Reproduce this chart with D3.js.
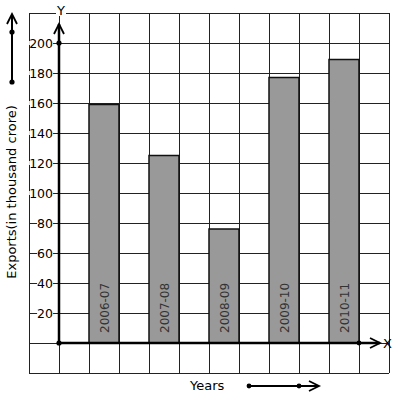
<!DOCTYPE html>
<html><head><meta charset="utf-8">
<script src="https://cdn.jsdelivr.net/npm/d3@7"></script>
<style>body{margin:0;background:#fff}svg{display:block}</style>
</head><body>
<script>
const categories = ["2006-07","2007-08","2008-09","2009-10","2010-11"];
const values = [159,125,76,177,189];
const yTicks = [20,40,60,80,100,120,140,160,180,200];

const W=397,H=399;
const svg=d3.select("body").append("svg").attr("width",W).attr("height",H);
const font="DejaVu Sans, sans-serif";
// y scale: 0 at 343, 200 at 43
const y=d3.scaleLinear().domain([0,200]).range([343,43]);
// x band: column index -> position; 30px columns
const xCol=d3.scaleLinear().domain([0,12]).range([29,389]);
const barCol=[2,4,6,8,10];

const g=svg.append("g");
// grid
for(let i=0;i<=12;i++){
  g.append("line").attr("x1",xCol(i)).attr("x2",xCol(i)).attr("y1",13).attr("y2",373)
   .attr("stroke","#222").attr("stroke-width",1).attr("shape-rendering","crispEdges");
  const yy=13+i*30;
  g.append("line").attr("x1",29).attr("x2",389).attr("y1",yy).attr("y2",yy)
   .attr("stroke","#222").attr("stroke-width",1).attr("shape-rendering","crispEdges");
}
// bars
categories.forEach((c,i)=>{
  const x0=xCol(barCol[i]), x1=xCol(barCol[i]+1);
  g.append("rect").attr("x",x0).attr("y",y(values[i])).attr("width",x1-x0).attr("height",y(0)-y(values[i]))
   .attr("fill","#999").attr("stroke","#111").attr("stroke-width",1.5);
  const cx=(x0+x1)/2+1, by=333;
  g.append("text").attr("transform",`translate(${cx+4},${by}) rotate(-90)`)
   .attr("font-family",font).attr("font-size",12).attr("fill","#333").text(c);
});
// y tick labels with white background
yTicks.forEach(t=>{
  const tx=g.append("text").attr("x",53).attr("y",y(t)+4.5).attr("text-anchor","end")
    .attr("font-family",font).attr("font-size",12.5).attr("fill","#000").text(t);
  const bb=tx.node().getBBox();
  g.insert("rect","text").attr("x",bb.x).attr("y",y(t)-2).attr("width",bb.width).attr("height",4).attr("fill","#fff");
});
// re-raise texts
g.selectAll("text").raise();

function arrowHead(sel,x,yv,dir){
  // dir 'up' or 'right'
  const p = dir==="up" ? `M${x-5},${yv+10} L${x},${yv} L${x+5},${yv+10}` : `M${x-10},${yv-5} L${x},${yv} L${x-10},${yv+5}`;
  sel.append("path").attr("d",p).attr("fill","none").attr("stroke","#000").attr("stroke-width",1.8);
}
// y axis
g.append("line").attr("x1",59).attr("x2",59).attr("y1",y(0)).attr("y2",24).attr("stroke","#000").attr("stroke-width",2.5);
arrowHead(g,59,24,"up");
g.append("circle").attr("cx",59).attr("cy",y(200)).attr("r",2.6);
g.append("circle").attr("cx",59).attr("cy",y(0)).attr("r",2.6);
// Y label
g.append("rect").attr("x",56).attr("y",10).attr("width",10).attr("height",6).attr("fill","#fff");
g.append("text").attr("x",61).attr("y",15).attr("text-anchor","middle").attr("font-family",font).attr("font-size",13).text("Y");
// x axis
g.append("line").attr("x1",59).attr("x2",380).attr("y1",343).attr("y2",343).attr("stroke","#000").attr("stroke-width",2.5);
arrowHead(g,380,343,"right");
g.append("circle").attr("cx",359).attr("cy",343).attr("r",2.4);
g.append("text").attr("x",383).attr("y",347.5).attr("font-family",font).attr("font-size",13).text("X");

// axis titles
svg.append("text").attr("transform","translate(16,192) rotate(-90)").attr("text-anchor","middle")
  .attr("font-family",font).attr("font-size",13).text("Exports(in thousand crore)");
svg.append("text").attr("x",190).attr("y",390).attr("font-family",font).attr("font-size",13).text("Years");

// decorative left arrow
svg.append("line").attr("x1",12).attr("x2",12).attr("y1",82).attr("y2",14).attr("stroke","#000").attr("stroke-width",2);
arrowHead(svg,12,14,"up");
svg.append("circle").attr("cx",12).attr("cy",32).attr("r",2.6);
svg.append("circle").attr("cx",12).attr("cy",82).attr("r",2.6);
// decorative bottom arrow
svg.append("line").attr("x1",249).attr("x2",319).attr("y1",386).attr("y2",386).attr("stroke","#000").attr("stroke-width",2);
arrowHead(svg,319,386,"right");
svg.append("circle").attr("cx",249).attr("cy",386).attr("r",2.4);
svg.append("circle").attr("cx",299).attr("cy",386).attr("r",2.4);
</script>
</body></html>
